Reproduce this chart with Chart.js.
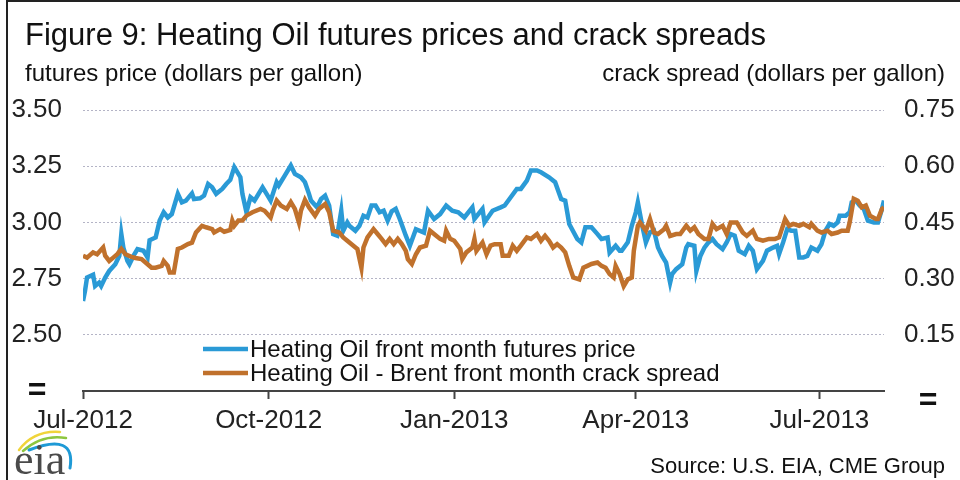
<!DOCTYPE html>
<html>
<head>
<meta charset="utf-8">
<script src="https://cdn.jsdelivr.net/npm/chart.js@4.4.1/dist/chart.umd.min.js"></script>
<style>
    html, body { margin: 0; padding: 0; background: #fff; }
    #chart { display: block; }
</style>
</head>
<body>
<canvas id="chart" width="960" height="480"></canvas>
<script>
// x values are days since 1 Jul 2012
const monthDays = [0, 92, 184, 274, 365];
const monthLabels = ['Jul-2012', 'Oct-2012', 'Jan-2013', 'Apr-2013', 'Jul-2013'];

// Heating Oil front month futures price (dollars per gallon)
const priceDays = [0, 1, 2, 5, 6, 8, 9, 11, 13, 16, 18, 19, 20, 22, 23, 25, 27, 30, 32, 33,
    36, 38, 40, 42, 44, 47, 49, 51, 54, 55, 58, 60, 62, 64, 66, 69, 71, 73, 75, 78,
    79, 81, 83, 85, 89, 91, 93, 96, 97, 100, 103, 105, 108, 110, 112, 113, 116, 118, 120, 122,
    124, 126, 128, 129, 131, 132, 135, 137, 139, 141, 143, 145, 147, 149, 151, 153, 155, 157, 160, 162,
    165, 169, 171, 174, 177, 180, 183, 186, 189, 193, 194, 198, 199, 203, 207, 209, 212, 215, 217, 220,
    222, 225, 227, 231, 234, 237, 239, 241, 245, 247, 249, 252, 255, 257, 260, 261, 264, 266, 267, 270,
    272, 274, 275, 277, 279, 281, 283, 285, 287, 289, 291, 292, 294, 297, 299, 300, 303, 304, 306, 308,
    310, 312, 314, 317, 319, 321, 323, 325, 328, 330, 332, 334, 337, 339, 342, 344, 345, 347, 349, 351,
    353, 355, 357, 359, 361, 364, 366, 368, 370, 372, 374, 375, 378, 380, 381, 383, 385, 387, 389, 392,
    394, 396, 397];
const priceValues = [2.65, 2.695, 2.755, 2.767, 2.717, 2.732, 2.717, 2.755, 2.784, 2.814,
    2.851, 2.948, 2.888, 2.829, 2.814, 2.851, 2.881, 2.874, 2.844, 2.921,
    2.933, 3.008, 3.045, 3.022, 3.037, 3.127, 3.089, 3.097, 3.129, 3.104,
    3.107, 3.119, 3.171, 3.156, 3.127, 3.149, 3.171, 3.189, 3.246, 3.201,
    3.127, 3.045, 3.112, 3.097, 3.156, 3.127, 3.097, 3.179, 3.164, 3.208,
    3.253, 3.216, 3.201, 3.179, 3.127, 3.097, 3.067, 3.104, 3.119, 3.075,
    2.948, 2.941, 3.052, 2.963, 3.0, 2.985, 2.963, 2.985, 3.03, 3.022,
    3.075, 3.075, 3.045, 3.052, 3.008, 3.049, 3.06, 3.015, 2.941, 2.896,
    2.97, 2.955, 3.052, 3.015, 3.037, 3.075, 3.052, 3.045, 3.022, 3.067,
    3.015, 3.06, 3.0, 3.052, 3.067, 3.075, 3.112, 3.149, 3.149, 3.186,
    3.231, 3.231, 3.223, 3.201, 3.179, 3.104, 3.097, 2.993, 2.926, 2.911,
    2.978, 2.978, 2.948, 2.926, 2.933, 2.866, 2.896, 2.874, 2.874, 2.911,
    2.985, 3.045, 3.089, 2.993, 2.911, 2.955, 2.963, 2.888, 2.851, 2.821,
    2.732, 2.77, 2.792, 2.814, 2.888, 2.903, 2.896, 2.784, 2.851, 2.888,
    2.911, 2.926, 2.903, 2.881, 2.911, 2.948, 2.941, 2.874, 2.859, 2.896,
    2.874, 2.792, 2.829, 2.874, 2.888, 2.896, 2.859, 2.911, 2.97, 2.963,
    2.963, 2.844, 2.844, 2.851, 2.888, 2.874, 2.903, 2.963, 2.993, 2.985,
    3.0, 3.03, 3.03, 3.045, 3.089, 3.097, 3.075, 3.06, 3.008, 3.0,
    3.0, 3.06, 3.097];

// Heating Oil - Brent front month crack spread (dollars per gallon)
const spreadDays = [0, 2, 5, 7, 10, 11, 13, 15, 17, 19, 21, 24, 26, 29, 31, 34, 36, 39, 40, 42,
    43, 45, 47, 49, 52, 54, 56, 59, 61, 64, 65, 68, 70, 73, 74, 75, 77, 79, 81, 84,
    88, 90, 93, 94, 96, 98, 101, 103, 105, 107, 108, 110, 112, 115, 117, 120, 122, 124, 127, 129,
    131, 134, 136, 138, 139, 141, 144, 146, 148, 150, 152, 154, 156, 158, 160, 161, 163, 165, 167, 170,
    172, 174, 177, 179, 180, 182, 184, 187, 188, 190, 193, 194, 195, 198, 200, 202, 204, 207, 208, 211,
    213, 215, 217, 220, 222, 225, 227, 229, 231, 233, 235, 237, 239, 241, 243, 246, 248, 250, 252, 255,
    257, 259, 261, 263, 264, 266, 268, 270, 272, 273, 275, 276, 279, 281, 283, 285, 288, 289, 291, 294,
    296, 299, 301, 303, 305, 308, 310, 312, 314, 317, 319, 321, 324, 327, 329, 332, 334, 337, 340, 343,
    345, 348, 350, 352, 355, 357, 360, 361, 364, 366, 369, 371, 374, 376, 379, 380, 382, 384, 386, 388,
    390, 393, 394, 396, 397];
const spreadValues = [0.361, 0.356, 0.370, 0.365, 0.383, 0.361, 0.347, 0.356, 0.365, 0.379,
    0.365, 0.358, 0.355, 0.352, 0.343, 0.329, 0.329, 0.334, 0.347, 0.334,
    0.316, 0.316, 0.379, 0.383, 0.392, 0.396, 0.423, 0.441, 0.437, 0.432,
    0.423, 0.432, 0.425, 0.43, 0.455, 0.441, 0.455, 0.455, 0.468, 0.477,
    0.486, 0.481, 0.463, 0.481, 0.508, 0.495, 0.486, 0.504, 0.486, 0.45,
    0.481, 0.510, 0.490, 0.468, 0.486, 0.499, 0.477, 0.428, 0.423, 0.41,
    0.401, 0.388, 0.379, 0.329, 0.383, 0.41, 0.432, 0.419, 0.406, 0.392,
    0.406, 0.392, 0.406, 0.392, 0.374, 0.352, 0.339, 0.365, 0.383, 0.388,
    0.428, 0.419, 0.406, 0.401, 0.428, 0.406, 0.401, 0.379, 0.352, 0.37,
    0.383, 0.406, 0.374, 0.396, 0.365, 0.388, 0.392, 0.392, 0.361, 0.361,
    0.388, 0.374, 0.388, 0.41, 0.406, 0.419, 0.401, 0.414, 0.401, 0.383,
    0.392, 0.383, 0.37, 0.334, 0.303, 0.298, 0.329, 0.334, 0.339, 0.343,
    0.334, 0.329, 0.312, 0.303, 0.334, 0.312, 0.28, 0.298, 0.303, 0.374,
    0.441, 0.45, 0.428, 0.459, 0.423, 0.419, 0.432, 0.441, 0.414, 0.419,
    0.419, 0.441, 0.428, 0.437, 0.419, 0.406, 0.406, 0.446, 0.432, 0.441,
    0.419, 0.45, 0.45, 0.423, 0.414, 0.428, 0.406, 0.401, 0.406, 0.406,
    0.41, 0.459, 0.441, 0.446, 0.441, 0.446, 0.437, 0.446, 0.428, 0.423,
    0.428, 0.419, 0.423, 0.428, 0.428, 0.45, 0.513, 0.508, 0.49, 0.495,
    0.468, 0.459, 0.459, 0.486, 0.49];

const chartTitle = 'Figure 9: Heating Oil futures prices and crack spreads';
const leftTitle = 'futures price (dollars per gallon)';
const rightTitle = 'crack spread (dollars per gallon)';
const seriesNames = ['Heating Oil front month futures price', 'Heating Oil - Brent front month crack spread'];
const sourceText = 'Source: U.S. EIA, CME Group';

const sans = "'Liberation Sans', Arial, sans-serif";
const blue = '#2a9ad6';
const brown = '#c0712c';

const toPoints = (days, values) => days.map((d, i) => ({ x: d, y: values[i] }));

// titles, legend, axis breaks, source and logo
const decorPlugin = {
    id: 'decor',
    afterDraw(chart) {
        const ctx = chart.ctx;
        ctx.save();

        // frame
        ctx.strokeStyle = '#222';
        ctx.lineWidth = 2;
        ctx.beginPath();
        ctx.moveTo(7, 480);
        ctx.lineTo(7, 1);
        ctx.lineTo(960, 1);
        ctx.stroke();

        ctx.fillStyle = '#111';
        ctx.textBaseline = 'alphabetic';
        ctx.font = '31px ' + sans;
        ctx.textAlign = 'left';
        ctx.fillText(chartTitle, 25, 45);

        ctx.font = '24px ' + sans;
        ctx.fillText(leftTitle, 25, 81);
        ctx.textAlign = 'right';
        ctx.fillText(rightTitle, 945, 81);

        // legend
        ctx.textAlign = 'left';
        ctx.textBaseline = 'middle';
        chart.data.datasets.forEach((ds, i) => {
            const y = 349 + i * 24;
            ctx.strokeStyle = ds.borderColor;
            ctx.lineWidth = 4.5;
            ctx.beginPath();
            ctx.moveTo(203, y);
            ctx.lineTo(248, y);
            ctx.stroke();
            ctx.fillStyle = '#111';
            ctx.fillText(seriesNames[i], 250, y + 1);
        });

        // axis break marks
        ctx.font = 'bold 32px ' + sans;
        ctx.textAlign = 'center';
        ctx.fillText('=', 37, 391);
        ctx.fillText('=', 928, 401);

        ctx.font = '22px ' + sans;
        ctx.textAlign = 'right';
        ctx.textBaseline = 'alphabetic';
        ctx.fillText(sourceText, 945, 473);

        // eia logo
        ctx.lineCap = 'round';
        ctx.lineWidth = 2.5;
        ctx.strokeStyle = '#f0d43a';
        ctx.beginPath();
        ctx.moveTo(19, 450);
        ctx.quadraticCurveTo(34, 430, 60, 432);
        ctx.stroke();
        ctx.strokeStyle = '#8dc63f';
        ctx.beginPath();
        ctx.moveTo(23, 451);
        ctx.quadraticCurveTo(42, 434, 66, 438);
        ctx.stroke();
        ctx.strokeStyle = '#1e9ad6';
        ctx.lineWidth = 3;
        ctx.beginPath();
        ctx.moveTo(29, 450);
        ctx.quadraticCurveTo(76, 432, 70, 468);
        ctx.stroke();
        ctx.fillStyle = '#4a4a4a';
        ctx.textAlign = 'left';
        ctx.font = "44px 'Liberation Serif', 'DejaVu Serif', serif";
        ctx.fillText('eia', 14, 474);

        ctx.restore();
    }
};

new Chart(document.getElementById('chart'), {
    type: 'line',
    data: {
        datasets: [
            {
                label: seriesNames[0],
                data: toPoints(priceDays, priceValues),
                yAxisID: 'yL',
                borderColor: blue,
                borderWidth: 4.5,
                pointRadius: 0,
                tension: 0,
                order: 1
            },
            {
                label: seriesNames[1],
                data: toPoints(spreadDays, spreadValues),
                yAxisID: 'yR',
                borderColor: brown,
                borderWidth: 4.5,
                pointRadius: 0,
                tension: 0,
                order: 0
            }
        ]
    },
    options: {
        responsive: false,
        animation: false,
        devicePixelRatio: 1,
        layout: {
            padding: { top: 110, left: 0, right: 0, bottom: 0 }
        },
        plugins: {
            legend: { display: false },
            tooltip: { enabled: false }
        },
        scales: {
            x: {
                type: 'linear',
                min: 0,
                max: 397,
                afterBuildTicks: (scale) => {
                    scale.ticks = monthDays.map((v) => ({ value: v }));
                },
                afterFit: (scale) => {
                    scale.height = 89;
                },
                grid: {
                    drawOnChartArea: false,
                    drawTicks: true,
                    tickLength: 8,
                    tickWidth: 2,
                    tickColor: '#444'
                },
                border: { display: true, color: '#444', width: 2 },
                ticks: {
                    autoSkip: false,
                    maxRotation: 0,
                    padding: 6,
                    color: '#222',
                    font: { family: sans, size: 26 },
                    callback: (value) => monthLabels[monthDays.indexOf(value)]
                }
            },
            yL: {
                position: 'left',
                min: 2.25,
                max: 3.5,
                afterFit: (scale) => {
                    scale.width = 83;
                },
                grid: {
                    drawTicks: false,
                    lineWidth: 1,
                    color: (c) => (c.tick && c.tick.value < 2.3 ? 'rgba(0,0,0,0)' : '#b4b4c6')
                },
                border: { display: false, dash: [2, 2] },
                ticks: {
                    stepSize: 0.25,
                    padding: 21,
                    color: '#222',
                    font: { family: sans, size: 26 },
                    callback: (value) => (value < 2.3 ? '' : value.toFixed(2))
                }
            },
            yR: {
                position: 'right',
                min: 0,
                max: 0.75,
                afterFit: (scale) => {
                    scale.width = 76;
                },
                grid: { display: false, drawTicks: false },
                border: { display: false },
                ticks: {
                    stepSize: 0.15,
                    padding: 20,
                    color: '#222',
                    font: { family: sans, size: 26 },
                    callback: (value) => (value < 0.01 ? '' : value.toFixed(2))
                }
            }
        }
    },
    plugins: [decorPlugin]
});
</script>
</body>
</html>
